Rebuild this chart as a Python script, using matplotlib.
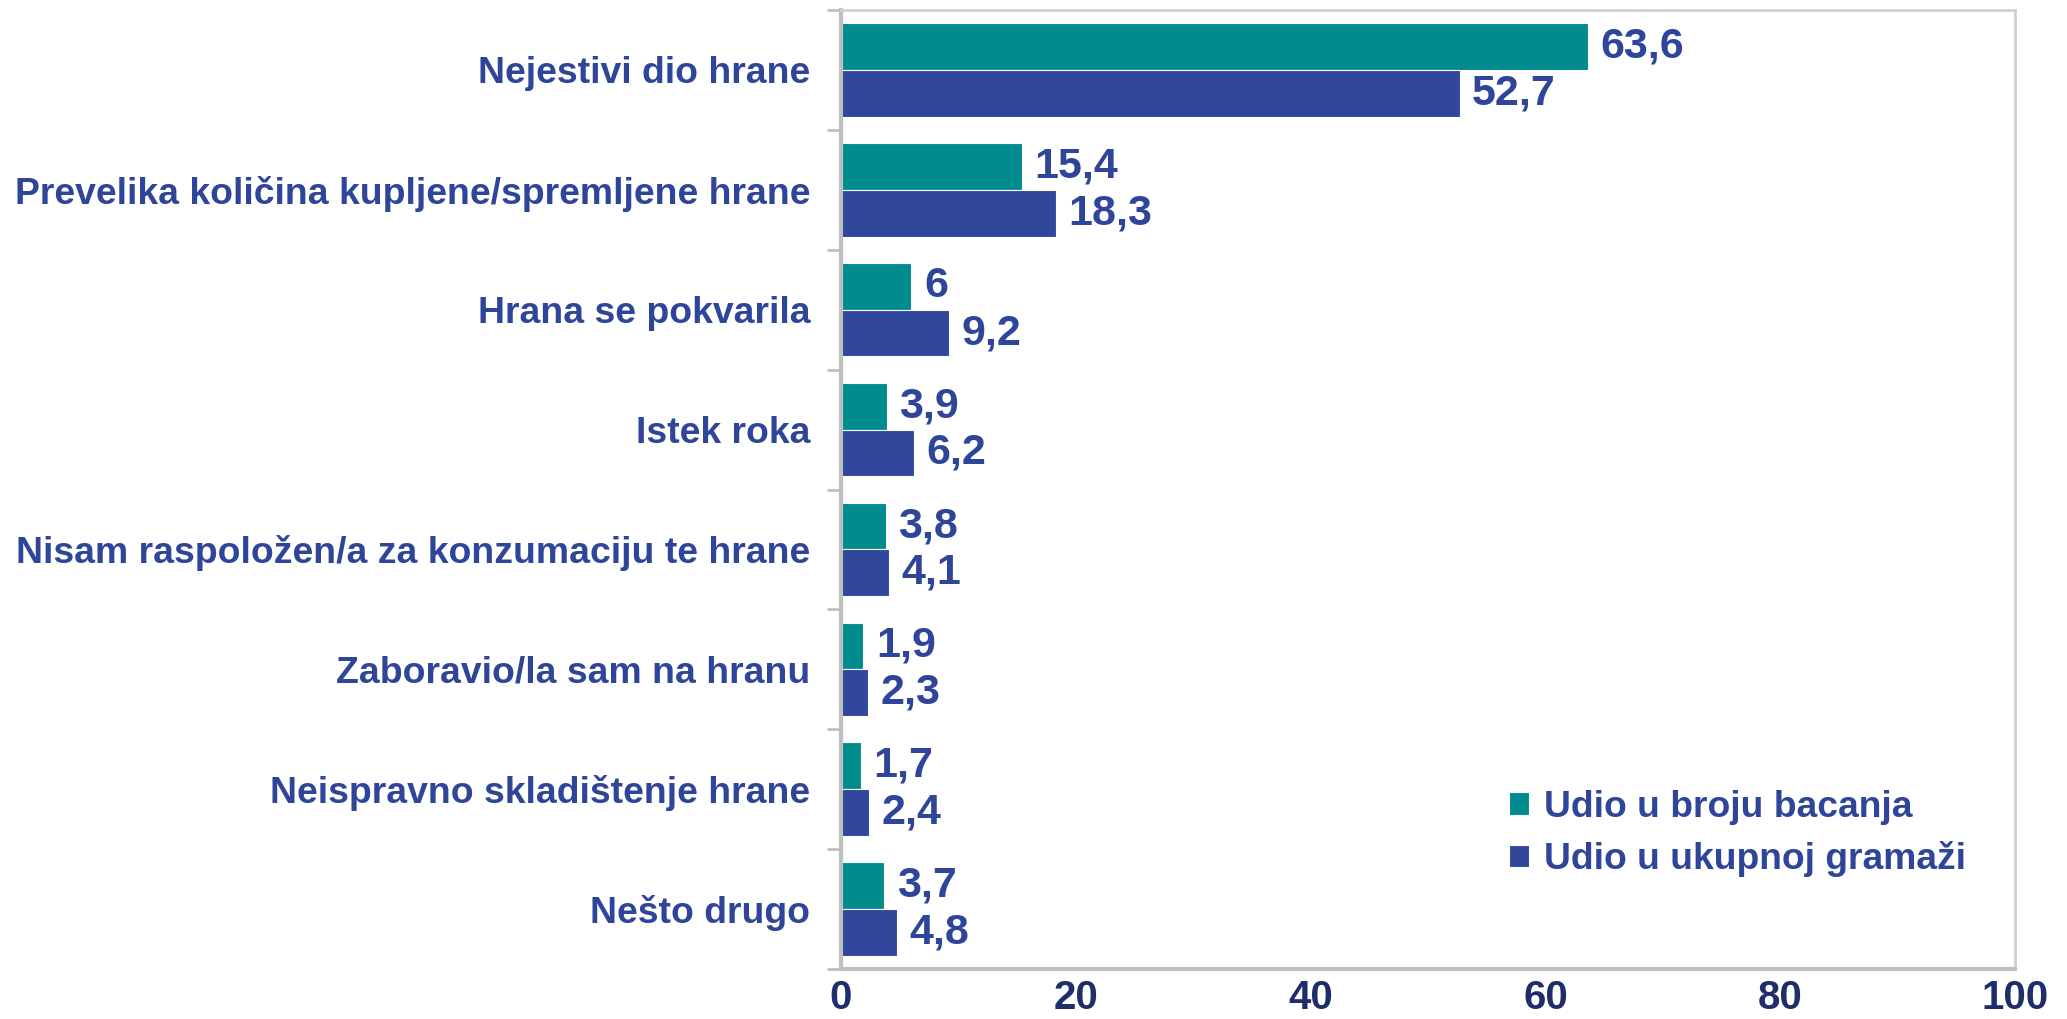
import matplotlib
matplotlib.use("Agg")
import matplotlib.pyplot as plt
import numpy as np

categories = [
    "Nejestivi dio hrane",
    "Prevelika količina kupljene/spremljene hrane",
    "Hrana se pokvarila",
    "Istek roka",
    "Nisam raspoložen/a za konzumaciju te hrane",
    "Zaboravio/la sam na hranu",
    "Neispravno skladištenje hrane",
    "Nešto drugo",
]
series_names = ["Udio u broju bacanja", "Udio u ukupnoj gramaži"]
udio_broj = [63.6, 15.4, 6, 3.9, 3.8, 1.9, 1.7, 3.7]
udio_gramaza = [52.7, 18.3, 9.2, 6.2, 4.1, 2.3, 2.4, 4.8]
value_labels_1 = ["63,6", "15,4", "6", "3,9", "3,8", "1,9", "1,7", "3,7"]
value_labels_2 = ["52,7", "18,3", "9,2", "6,2", "4,1", "2,3", "2,4", "4,8"]
xticks = [0, 20, 40, 60, 80, 100]

plt.rcParams['font.family'] = ['Liberation Sans', 'DejaVu Sans']
plt.rcParams['font.weight'] = 'bold'

teal = "#008C8E"
blue = "#30479B"
txt = "#2E4599"
tick_txt = "#1F2D6B"
grid = "#BFBFBF"

fig = plt.figure(figsize=(20.67, 10.19), dpi=100)
ax = fig.add_axes([841/2067, 1-969/1019, (2015-841)/2067, (969-10)/1019])

n = len(categories)
y = np.arange(n)
h = 0.39
ax.barh(y - h/2, udio_broj, height=h, color=teal, edgecolor="white", linewidth=0.8, label=series_names[0])
ax.barh(y + h/2, udio_gramaza, height=h, color=blue, edgecolor="white", linewidth=0.8, label=series_names[1])

for i in range(n):
    ax.annotate(value_labels_1[i], (udio_broj[i], y[i] - h/2), xytext=(9, 0), textcoords="offset points",
                va="center", ha="left", fontsize=31, fontweight="bold", color=txt)
    ax.annotate(value_labels_2[i], (udio_gramaza[i], y[i] + h/2), xytext=(9, 0), textcoords="offset points",
                va="center", ha="left", fontsize=31, fontweight="bold", color=txt)

ax.set_ylim(n - 0.5, -0.5)
ax.set_xlim(0, 100)
ax.set_yticks(y)
ax.set_yticklabels(categories, fontsize=26.9, fontweight="bold", color=txt)
ax.set_yticks(np.arange(-0.5, n, 1), minor=True)
ax.tick_params(axis="y", which="major", length=0, pad=22)
ax.tick_params(axis="y", which="minor", length=10, color=grid, width=2)
ax.set_xticks(xticks)
ax.set_xticklabels([str(t) for t in xticks], fontsize=29, fontweight="bold", color=tick_txt)
ax.tick_params(axis="x", length=0, pad=7)

for s in ["left", "bottom"]:
    ax.spines[s].set_color(grid)
    ax.spines[s].set_linewidth(3)
for s in ["top", "right"]:
    ax.spines[s].set_color("#D0D0D0")
    ax.spines[s].set_linewidth(2)

leg = ax.legend(loc="lower right", bbox_to_anchor=(0.971, 0.08), frameon=False,
                fontsize=26.8, handlelength=0.55, handleheight=0.55, handletextpad=0.4,
                labelspacing=0.45, borderaxespad=0)
for t in leg.get_texts():
    t.set_color(txt)
    t.set_fontweight("bold")

fig.savefig("out.png", dpi=100)
